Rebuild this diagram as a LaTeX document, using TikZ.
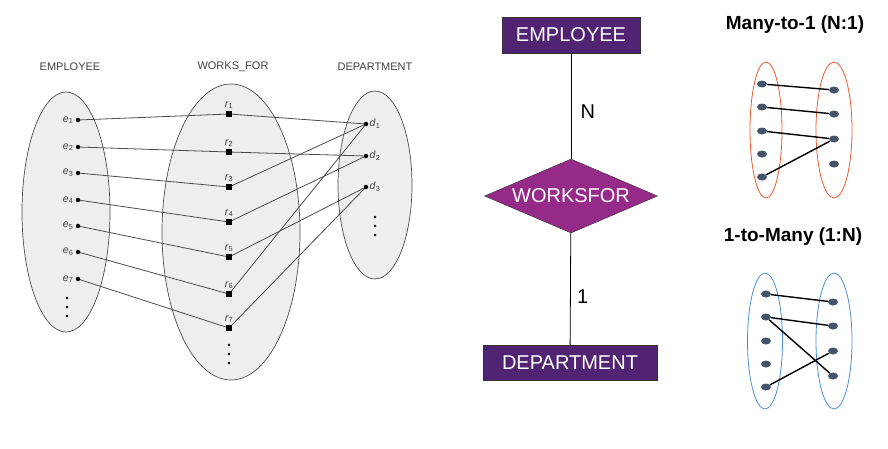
\documentclass[tikz,border=0pt]{standalone}
\usepackage{fontspec}
\setmainfont{Liberation Sans}
\usetikzlibrary{shapes.geometric}

\definecolor{entpurple}{HTML}{512373}
\definecolor{relpurple}{HTML}{952A88}
\definecolor{setgray}{HTML}{EEEEEE}
\definecolor{dotgray}{HTML}{44546A}
\definecolor{manyorange}{HTML}{EA5B2C}
\definecolor{oneblue}{HTML}{4A8ED6}

\newcommand{\elab}[2]{\textit{#1}\textsubscript{#2}}

\tikzset{
  setoval/.style={draw=black!70, fill=setgray, ellipse, inner sep=0pt, line width=0.7pt},
  setdot/.style={circle, fill=black, inner sep=0pt, minimum size=4.5pt},
  reldot/.style={rectangle, fill=black, inner sep=0pt, minimum size=5.5pt},
  setlink/.style={draw=black!70, line width=0.8pt},
  setlab/.style={font=\fontsize{11}{13}\selectfont, text=black!75},
  sublab/.style={font=\fontsize{10.5}{12}\selectfont, text=black!75, inner sep=1pt},
  entbox/.style={draw=black!80, fill=entpurple, text=white, inner sep=0pt,
    font=\fontsize{20}{24}\selectfont},
  bigfont/.style={font=\fontsize{20}{24}\selectfont},
  mapoval/.style={ellipse, draw, line width=0.8pt, inner sep=0pt},
  mapdot/.style={ellipse, fill=dotgray, inner sep=0pt, minimum width=10pt, minimum height=7pt},
  maplink/.style={draw=black, line width=1.4pt},
}

\begin{document}
\begin{tikzpicture}[x=1pt, y=-1pt]
  \useasboundingbox (0,0) rectangle (888,448);

  % sets of the relationship
  \node[setoval, minimum width=88pt, minimum height=240pt] (empset) at (66,212) {};
  \node[setoval, minimum width=138pt, minimum height=296pt] (wfset) at (231,232) {};
  \node[setoval, minimum width=74pt, minimum height=188pt] (depset) at (375,185) {};
  \node[setlab] (emptitle) at (70,67) {EMPLOYEE};
  \node[setlab] (wftitle) at (233,67) {WORKS\_FOR};
  \node[setlab] (deptitle) at (375,67) {DEPARTMENT};

  \foreach \i/\y in {1/120,2/147,3/173,4/200,5/226,6/252,7/279}
    \coordinate (ep\i) at (78,\y);
  \foreach \i/\y in {1/114,2/152,3/187,4/222,5/257,6/294,7/328}
    \coordinate (rp\i) at (229,\y);
  \foreach \i/\y in {1/124,2/156,3/187}
    \coordinate (dp\i) at (366,\y);

  \foreach \i in {1,...,7}
    \draw[setlink] (ep\i) -- (rp\i);
  \foreach \i/\j in {1/1,2/2,3/1,4/2,5/3,6/1,7/3}
    \draw[setlink] (rp\i) -- (dp\j);

  \foreach \i in {1,...,7} {
    \node[setdot] (e\i) at (ep\i) {};
    \node[sublab, left=1pt] at (e\i.west) {\elab{e}{\i}};
    \node[reldot] (r\i) at (rp\i) {};
    \node[sublab, above=1pt] at (r\i.north) {\elab{r}{\i}};
  }
  \foreach \i in {1,2,3} {
    \node[setdot] (d\i) at (dp\i) {};
    \node[sublab, right] at (d\i.east) {\elab{d}{\i}};
  }
  \foreach \y in {298,307,316} {
    \fill (67,\y) circle[radius=1.3pt];
    \fill (229,\y+47) circle[radius=1.3pt];
    \fill (375,\y-81) circle[radius=1.3pt];
  }

  % ER notation
  \node[entbox, minimum width=138pt, minimum height=36pt] (emp) at (571,35) {EMPLOYEE};
  \node[draw=black!80, fill=relpurple, diamond, inner sep=0pt, minimum width=173pt, minimum height=74pt,
    label={[text=white, bigfont]center:WORKSFOR}] (wf) at (571,196) {};
  \node[entbox, minimum width=174pt, minimum height=35pt] (dep) at (570,363) {DEPARTMENT};
  \draw[line width=0.8pt] (emp) -- (wf) node[pos=0.55, right=6pt, bigfont] {N};
  \draw[line width=0.8pt] (wf) -- (dep) node[pos=0.57, right=3pt, bigfont] {1};

  % mapping cardinalities
  \node[font=\bfseries\fontsize{19}{23}\selectfont] (manyone) at (795,25) {Many-to-1 (N:1)};
  \node[mapoval, draw=manyorange, minimum width=32pt, minimum height=136pt] (mlset) at (766,130) {};
  \node[mapoval, draw=manyorange, minimum width=36pt, minimum height=136pt] (mrset) at (834,130) {};
  \foreach \i/\y in {1/84,2/107,3/131,4/154,5/177}
    \node[mapdot] (ml\i) at (762,\y) {};
  \foreach \i/\y in {1/90,2/114,3/139,4/164}
    \node[mapdot] (mr\i) at (834,\y) {};
  \foreach \a/\b in {1/1,2/2,3/3,5/3}
    \draw[maplink] (ml\a) -- (mr\b);

  \node[font=\bfseries\fontsize{19}{23}\selectfont] (onemany) at (793,237) {1-to-Many (1:N)};
  \node[mapoval, draw=oneblue, minimum width=35pt, minimum height=136pt] (olset) at (765,341) {};
  \node[mapoval, draw=oneblue, minimum width=36pt, minimum height=136pt] (orset) at (834,341) {};
  \foreach \i/\y in {1/294,2/317,3/341,4/364,5/387}
    \node[mapdot] (ol\i) at (766,\y) {};
  \foreach \i/\y in {1/302,2/326,3/351,4/376}
    \node[mapdot] (or\i) at (833,\y) {};
  \foreach \a/\b in {1/1,2/2,2/4,5/3}
    \draw[maplink] (ol\a) -- (or\b);
\end{tikzpicture}
\end{document}
